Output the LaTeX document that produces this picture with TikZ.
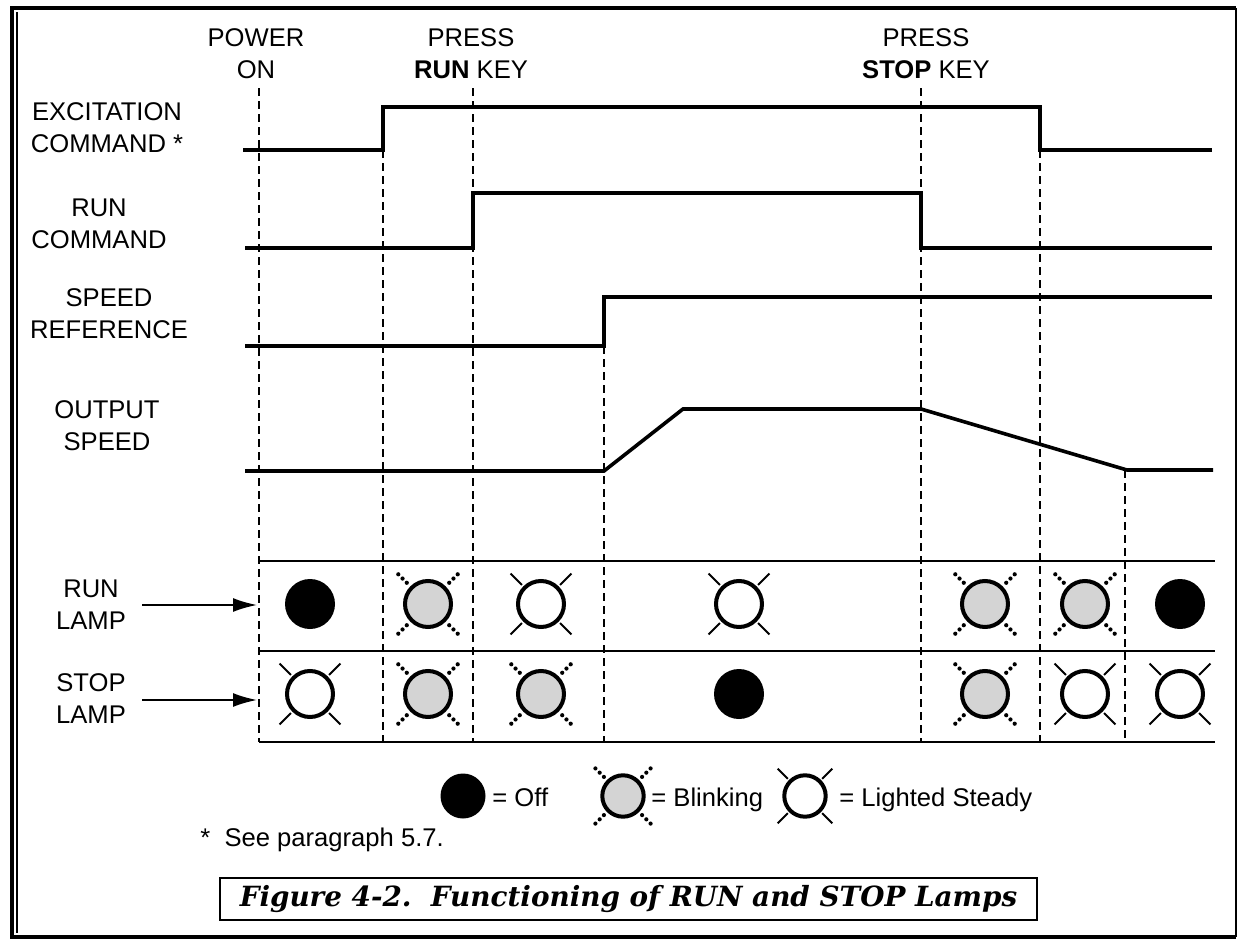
\documentclass[tikz,border=0pt]{standalone}
\usepackage{fontspec}
\setmainfont{Liberation Sans}
\newfontfamily\capfont{DejaVu Serif}
\usepackage{tikz}
\usetikzlibrary{arrows.meta,positioning}

\begin{document}
\begin{tikzpicture}[x=0.5pt,y=-0.5pt,font=\fontsize{12.8}{16}\selectfont,
   lbl/.style={align=center,inner sep=0pt},
   sig/.style={line width=1.8pt},
   guide/.style={line width=0.8pt,dash pattern=on 4pt off 2.5pt},
   rule/.style={line width=0.7pt},
   arr/.style={-{Latex[length=12pt,width=7pt]},line width=0.9pt},
   ray/.style={line width=1pt},
   dotray/.style={line width=2.1pt,line cap=round,dash pattern=on 0pt off 3pt},
   pics/lampoff/.style={code={\fill (0,0) circle (25);}},
   pics/lampblink/.style={code={
     \draw[line width=2pt,fill=black!17] (0,0) circle (23);
     \foreach \a in {45,135,225,315} \draw[dotray] (\a:30) -- (\a:45);}},
   pics/lampon/.style={code={
     \draw[line width=2pt] (0,0) circle (23);
     \foreach \a in {45,135,225,315} \draw[ray] (\a:27) -- (\a:43);}}]

  \useasboundingbox (0,0) rectangle (1239,942);
  % frame
  \draw[line width=2pt] (1236,8) -- (12,8) -- (12,937) -- (1236,937);
  \draw[line width=0.6pt] (1236,8) -- (1236,937);
  \draw[line width=0.6pt] (17,12) -- (17,933);

  % key events
  \node[lbl] (pwron) at (256,54) {POWER\\ON};
  \node[lbl] (pressrun) at (471,54) {PRESS\\\textbf{RUN} KEY};
  \node[lbl] (pressstop) at (926,54) {PRESS\\\textbf{STOP} KEY};

  % signal names
  \node[lbl] (exc) at (107,128) {EXCITATION\\COMMAND *};
  \node[lbl] (runcmd) at (99,224) {RUN\\COMMAND};
  \node[lbl] (spdref) at (109,314) {SPEED\\REFERENCE};
  \node[lbl] (outspd) at (107,426) {OUTPUT\\SPEED};

  % dashed time marks
  \foreach \gx/\gy in {259/88,383/150,473/88,604/346,921/88,1040/150,1125/470}
    \draw[guide] (\gx,\gy) -- (\gx,742);

  % signals
  \draw[sig] (243,150) -- (383,150) -- (383,107) -- (1040,107) -- (1040,150) -- (1212,150);
  \draw[sig] (245,248) -- (473,248) -- (473,193) -- (921,193) -- (921,248) -- (1212,248);
  \draw[sig] (245,346) -- (604,346) -- (604,297) -- (1212,297);
  \draw[sig] (245,471) -- (604,471) -- (683,409) -- (921,409) -- (1127,470) -- (1213,470);

  % lamp table
  \foreach \ty in {561,651,742} \draw[rule] (259,\ty) -- (1215,\ty);
  \node[lbl] (runlamp) at (91,605) {RUN\\LAMP};
  \node[lbl] (stoplamp) at (91,699) {STOP\\LAMP};
  \coordinate (runin) at (257,605);
  \coordinate (stopin) at (257,700);
  \draw[arr] ([xshift=8pt]runlamp.east) -- (runin);
  \draw[arr] ([xshift=8pt]stoplamp.east |- stopin) -- (stopin);

  \pic at (310,604) {lampoff};
  \pic at (310,694) {lampon};
  \pic at (428,604) {lampblink};
  \pic at (428,694) {lampblink};
  \pic at (541,604) {lampon};
  \pic at (541,694) {lampblink};
  \pic at (739,604) {lampon};
  \pic at (739,694) {lampoff};
  \pic at (985,604) {lampblink};
  \pic at (985,694) {lampblink};
  \pic at (1085,604) {lampblink};
  \pic at (1085,694) {lampon};
  \pic at (1180,604) {lampoff};
  \pic at (1180,694) {lampon};

  % legend
  \pic[scale=0.9] at (463,796) {lampoff};
  \node[anchor=base west,inner sep=0pt] (offtxt) at (492,806) {=~Off};
  \pic[scale=0.9] at (623,796) {lampblink};
  \node[anchor=base west,inner sep=0pt] (blinktxt) at (651,806) {=~Blinking};
  \pic[scale=0.9] at (805,796) {lampon};
  \node[anchor=base west,inner sep=0pt] (ontxt) at (839,806) {=~Lighted Steady};

  \node[anchor=base west,inner sep=0pt] (note) at (200,846) {*\ \ See paragraph 5.7.};
  \node[draw,line width=0.9pt,minimum width=408.5pt,minimum height=21pt,inner sep=0pt]
    (caption) at (628.5,899)
    {\capfont\bfseries\itshape\fontsize{13.9}{15}\selectfont Figure 4-2.\ \ Functioning of RUN and STOP Lamps};
\end{tikzpicture}
\end{document}
